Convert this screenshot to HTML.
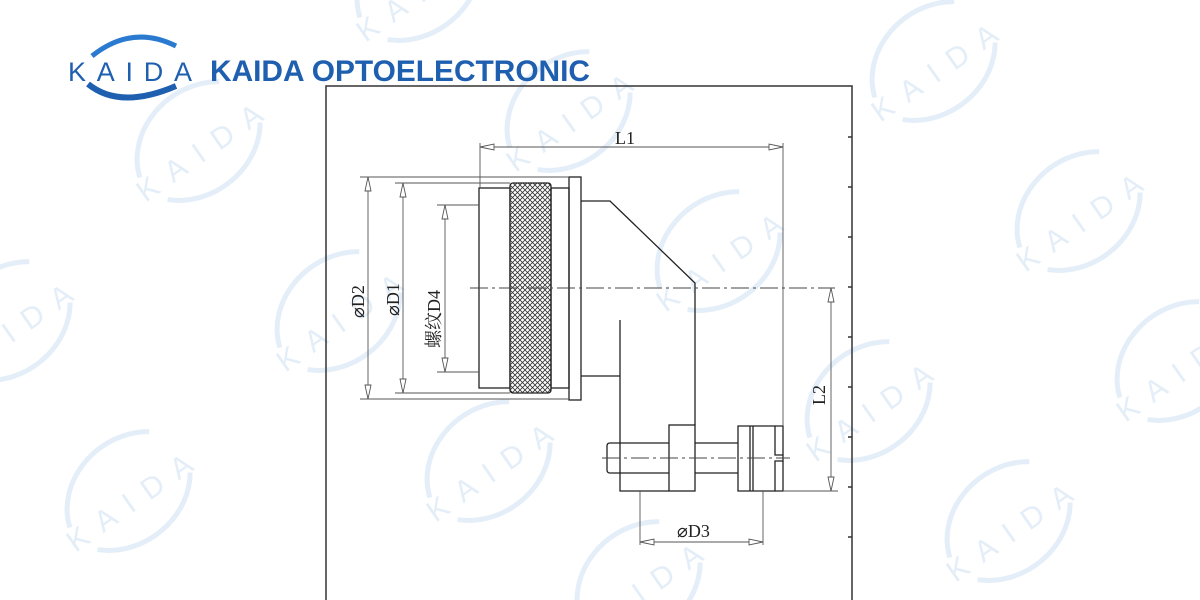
<!DOCTYPE html>
<html><head><meta charset="utf-8"><style>
html,body{margin:0;padding:0;background:#fff;width:1200px;height:600px;overflow:hidden}
svg{display:block}
</style></head><body>
<svg width="1200" height="600" viewBox="0 0 1200 600" xmlns="http://www.w3.org/2000/svg" font-family="Liberation Serif, serif">
<defs>
<pattern id="kn" width="5" height="5" patternUnits="userSpaceOnUse">
<rect width="5" height="5" fill="#fff"/>
<path d="M0 0L5 5M5 0L0 5" stroke="#333" stroke-width="0.8"/>
</pattern>
<g id="wm" fill="none" stroke="#e4eef8" stroke-width="5">
<path d="M-65 -12 A75 65 0 0 1 55 -45"/>
<path d="M-55 22 A75 65 0 0 0 65 12"/>
<text x="-75" y="12" stroke="none" fill="#e4eef8" font-family="Liberation Sans, sans-serif" font-size="30" letter-spacing="14">KAIDA</text>
</g>
</defs>
<use href="#wm" transform="translate(200,150) rotate(-35)"/>
<use href="#wm" transform="translate(570,120) rotate(-35)"/>
<use href="#wm" transform="translate(935,70) rotate(-35)"/>
<use href="#wm" transform="translate(720,260) rotate(-35)"/>
<use href="#wm" transform="translate(1080,220) rotate(-35)"/>
<use href="#wm" transform="translate(340,320) rotate(-35)"/>
<use href="#wm" transform="translate(10,330) rotate(-35)"/>
<use href="#wm" transform="translate(870,410) rotate(-35)"/>
<use href="#wm" transform="translate(1180,370) rotate(-35)"/>
<use href="#wm" transform="translate(490,470) rotate(-35)"/>
<use href="#wm" transform="translate(130,500) rotate(-35)"/>
<use href="#wm" transform="translate(1010,530) rotate(-35)"/>
<use href="#wm" transform="translate(640,590) rotate(-35)"/>
<use href="#wm" transform="translate(420,-10) rotate(-35)"/>
<!-- logo -->
<path d="M92 56 Q132 24 176 46" fill="none" stroke="#2a7bd0" stroke-width="5"/>
<path d="M88 84 Q120 110 176 86" fill="none" stroke="#1f5fb0" stroke-width="6"/>
<text x="68" y="81" font-family="Liberation Sans, sans-serif" font-size="27" fill="#1f5fb0" textLength="124" lengthAdjust="spacing">KAIDA</text>
<text x="210" y="81" font-family="Liberation Sans, sans-serif" font-weight="bold" font-size="30" fill="#1f5fb0" textLength="380" lengthAdjust="spacingAndGlyphs">KAIDA OPTOELECTRONIC</text>
<!-- frame -->
<g stroke="#333" fill="none" stroke-width="1.5">
<path d="M326 600V86H852V600"/>
<path d="M848 137h4M848 187h4M848 237h4M848 287h4M848 337h4M848 387h4M848 437h4M848 487h4M848 537h4"/>
</g>
<!-- part -->
<g stroke="#222" fill="none" stroke-width="1.3">
<rect x="479" y="188" width="31" height="200"/>
<rect x="510" y="183" width="41" height="210" rx="3" fill="url(#kn)"/>
<rect x="551" y="188" width="18" height="200"/>
<rect x="569" y="177" width="12" height="223"/>
<path d="M581 201H610L695 283V425"/>
<path d="M581 376H620V320M620 376V491H669"/>
<path d="M610 443H669M610 473H669M695 443H738M695 473H738"/>
<path d="M610 443Q607 443 607 446V470Q607 473 610 473"/>
<rect x="669" y="425" width="26" height="66"/>
<path d="M738 426H775V455H783V461H775V491H738Z"/>
<path d="M750 426V491M753 426V491"/>
<path d="M775 426H783V455M783 461V491H775"/>
</g>
<!-- center lines -->
<g stroke="#444" stroke-width="0.9" fill="none" stroke-dasharray="18 4 3 4">
<path d="M470 288H835"/>
<path d="M602 458H790"/>
</g>
<!-- dims -->
<g stroke="#555" stroke-width="0.9" fill="none">
<path d="M480 143V188M783 143V426"/>
<path d="M480 147H783"/>
<path d="M360 177H569M395 183H510M437 205H479M437 372H479M395 393H510M360 399H569"/>
<path d="M368 177V399M403 183V393M445 205V372"/>
<path d="M783 491H838M831 288V491"/>
<path d="M640 491V545M763 491V545M640 542H763"/>
</g>
<g fill="#fff" stroke="#555" stroke-width="0.9">
<path d="M480 147l14 -3v6zM783 147l-14 -3v6z"/>
<path d="M368 177l-3 14h6zM368 399l-3 -14h6zM403 183l-3 14h6zM403 393l-3 -14h6zM445 205l-3 14h6zM445 372l-3 -14h6z"/>
<path d="M831 288l-3 14h6zM831 491l-3 -14h6z"/>
<path d="M640 542l14 -3v6zM763 542l-14 -3v6z"/>
</g>
<g fill="#222" font-size="18">
<text x="615" y="144">L1</text>
<text x="677" y="537">⌀D3</text>
<text transform="translate(825,405) rotate(-90)">L2</text>
<text transform="translate(364,318) rotate(-90)">⌀D2</text>
<text transform="translate(399,316) rotate(-90)">⌀D1</text>
<text transform="translate(440,348) rotate(-90)" font-family="Liberation Serif, Noto Serif CJK SC, serif">螺纹D4</text>
</g>
</svg>
</body></html>
